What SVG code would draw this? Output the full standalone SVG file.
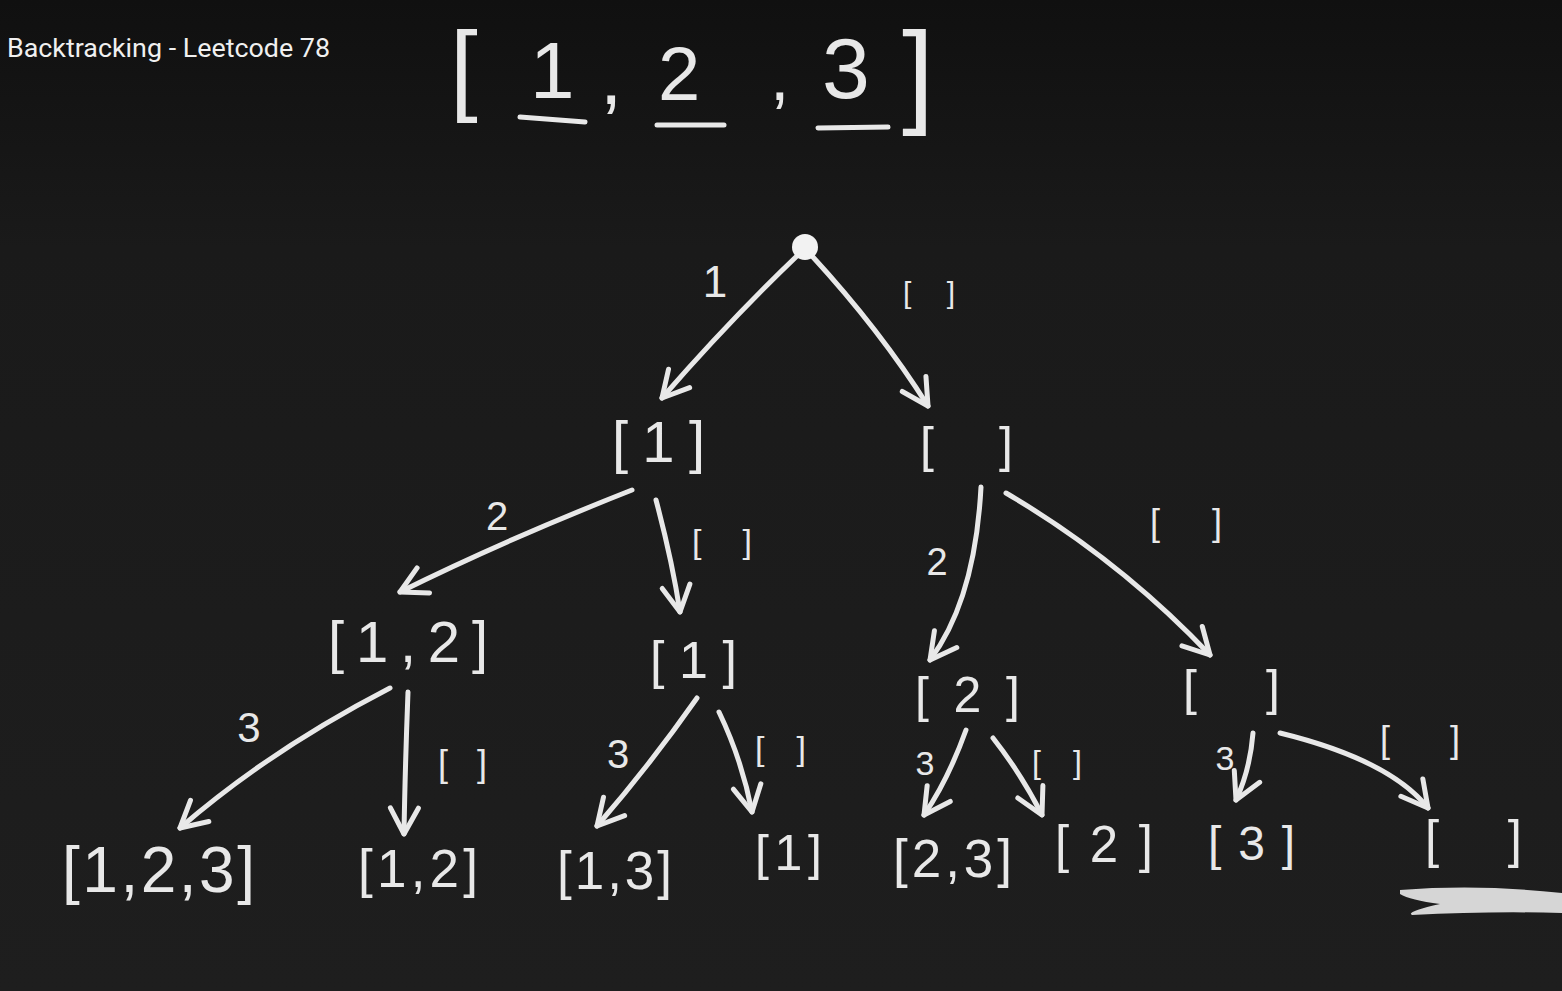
<svg xmlns="http://www.w3.org/2000/svg" width="1562" height="991" viewBox="0 0 1562 991">
<defs>
<linearGradient id="bg" x1="0" y1="0" x2="0" y2="1">
<stop offset="0" stop-color="#101010"/>
<stop offset="0.25" stop-color="#1a1a1a"/>
<stop offset="1" stop-color="#1e1e1e"/>
</linearGradient>
<marker id="ah" viewBox="0 0 36 36" refX="32" refY="18" markerWidth="36" markerHeight="36" markerUnits="userSpaceOnUse" orient="auto">
<path d="M6,4 L32,18 L6,32" fill="none" stroke="#e8e8e8" stroke-width="5" stroke-linecap="round" stroke-linejoin="round"/>
</marker>
<style>
.t{font-family:"Liberation Sans",Arial,sans-serif;fill:#e8e8e8;}
.e{fill:none;stroke:#e8e8e8;stroke-width:5;stroke-linecap:round;marker-end:url(#ah);}
.u{stroke:#e8e8e8;stroke-width:5;stroke-linecap:round;}
</style>
</defs>
<rect width="1562" height="991" fill="url(#bg)"/>
<text x="7" y="57" font-family="Roboto,'Liberation Sans',sans-serif" font-size="26" fill="#f0f0f0" textLength="323" lengthAdjust="spacingAndGlyphs">Backtracking - Leetcode 78</text>

<g id="input">
<text class="t" x="450" y="102" font-size="100">[</text>
<text class="t" x="530" y="98" font-size="80">1</text>
<text class="t" x="600" y="104" font-size="80">,</text>
<text class="t" x="658" y="100" font-size="76">2</text>
<text class="t" x="770" y="100" font-size="70">,</text>
<text class="t" x="822" y="98" font-size="86">3</text>
<text class="t" x="902" y="112" font-size="115">]</text>
<line class="u" x1="520" y1="117" x2="585" y2="122"/>
<line class="u" x1="657" y1="125" x2="724" y2="125"/>
<line class="u" x1="818" y1="128" x2="888" y2="127"/>
</g>

<g id="connectors">
<path class="e" d="M798,255 Q730,320 662,398"/>
<path class="e" d="M812,256 Q880,330 928,406"/>
<path class="e" d="M632,490 Q505,540 400,592"/>
<path class="e" d="M656,500 Q672,560 680,612"/>
<path class="e" d="M981,487 Q975,600 930,660"/>
<path class="e" d="M1006,493 Q1120,560 1210,655"/>
<path class="e" d="M390,688 Q270,750 180,828"/>
<path class="e" d="M408,692 Q405,770 404,834"/>
<path class="e" d="M697,698 Q650,765 597,826"/>
<path class="e" d="M719,712 Q742,760 752,812"/>
<path class="e" d="M966,730 Q948,780 924,815"/>
<path class="e" d="M993,738 Q1022,775 1042,815"/>
<path class="e" d="M1253,733 Q1250,770 1236,800"/>
<path class="e" d="M1280,733 Q1390,760 1428,808"/>
</g>

<g id="edge-labels">
<text class="t" x="715" y="297" font-size="44" text-anchor="middle">1</text>
<text class="t" x="903" y="303" font-size="30" textLength="52" lengthAdjust="spacing">[ ]</text>
<text class="t" x="497" y="530" font-size="40" text-anchor="middle">2</text>
<text class="t" x="692" y="553" font-size="34" textLength="60" lengthAdjust="spacing">[ ]</text>
<text class="t" x="937" y="575" font-size="38" text-anchor="middle">2</text>
<text class="t" x="1150" y="535" font-size="36" textLength="72" lengthAdjust="spacing">[ ]</text>
<text class="t" x="249" y="742" font-size="42" text-anchor="middle">3</text>
<text class="t" x="438" y="776" font-size="36" textLength="49" lengthAdjust="spacing">[ ]</text>
<text class="t" x="618" y="768" font-size="40" text-anchor="middle">3</text>
<text class="t" x="755" y="760" font-size="34" textLength="51" lengthAdjust="spacing">[ ]</text>
<text class="t" x="925" y="775" font-size="34" text-anchor="middle">3</text>
<text class="t" x="1032" y="773" font-size="32" textLength="50" lengthAdjust="spacing">[ ]</text>
<text class="t" x="1225" y="770" font-size="34" text-anchor="middle">3</text>
<text class="t" x="1380" y="752" font-size="36" textLength="80" lengthAdjust="spacing">[ ]</text>
</g>

<g id="root"><circle cx="805" cy="247" r="13" fill="#f2f2f2"/></g>
<g id="n1"><text class="t" x="612" y="462" font-size="58" textLength="93" lengthAdjust="spacing">[1]</text></g>
<g id="n0"><text class="t" x="920" y="462" font-size="50" textLength="93" lengthAdjust="spacing">[ ]</text></g>
<g id="n12"><text class="t" x="328" y="662" font-size="58" textLength="160" lengthAdjust="spacing">[1,2]</text></g>
<g id="n1b"><text class="t" x="650" y="678" font-size="52" textLength="87" lengthAdjust="spacing">[1]</text></g>
<g id="n2"><text class="t" x="915" y="712" font-size="50" textLength="105" lengthAdjust="spacing">[2]</text></g>
<g id="n0b"><text class="t" x="1183" y="705" font-size="50" textLength="97" lengthAdjust="spacing">[ ]</text></g>
<g id="l123"><text class="t" x="62" y="892" font-size="64" textLength="193" lengthAdjust="spacing">[1,2,3]</text></g>
<g id="l12"><text class="t" x="358" y="887" font-size="53" textLength="120" lengthAdjust="spacing">[1,2]</text></g>
<g id="l13"><text class="t" x="557" y="889" font-size="53" textLength="115" lengthAdjust="spacing">[1,3]</text></g>
<g id="l1"><text class="t" x="755" y="870" font-size="50" textLength="67" lengthAdjust="spacing">[1]</text></g>
<g id="l23"><text class="t" x="893" y="877" font-size="53" textLength="119" lengthAdjust="spacing">[2,3]</text></g>
<g id="l2"><text class="t" x="1055" y="862" font-size="51" textLength="98" lengthAdjust="spacing">[2]</text></g>
<g id="l3"><text class="t" x="1208" y="860" font-size="48" textLength="87" lengthAdjust="spacing">[3]</text></g>
<g id="l0"><text class="t" x="1425" y="857" font-size="51" textLength="97" lengthAdjust="spacing">[ ]</text></g>

<g id="scribble">
<path d="M1400,890 Q1480,884 1562,893 L1562,913 Q1490,911 1412,915 Q1405,912 1440,904 Q1410,900 1400,894 Z" fill="#d6d6d6"/>
</g>
</svg>
